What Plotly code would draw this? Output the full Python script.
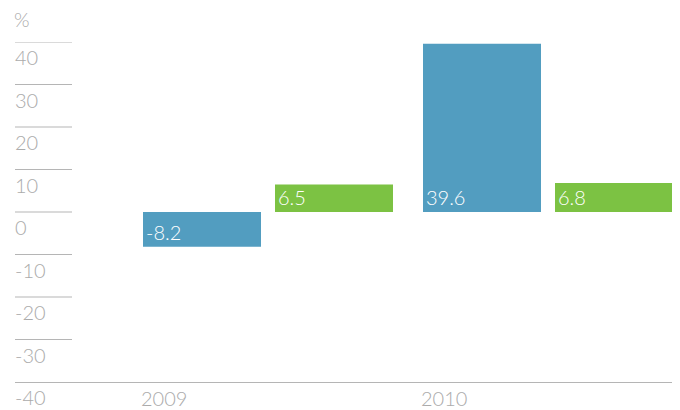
import plotly.graph_objects as go

years = [2009, 2010]
series_a = [-8.2, 39.6]
series_b = [6.5, 6.8]
y_ticks = [40, 30, 20, 10, 0, -10, -20, -30, -40]
year_labels = ["2009", "2010"]

BLUE = "#529DC0"
GREEN = "#7CC243"
GRAY_TXT = "#ABABAB"
GRAY_LINE = "#B5B5B5"
FONT = "Lato"

fig = go.Figure()
fig.add_trace(go.Bar(x=years, y=series_a, marker=dict(color=BLUE, line=dict(width=0)), hoverinfo="skip"))
fig.add_trace(go.Bar(x=years, y=series_b, marker=dict(color=GREEN, line=dict(width=0)), hoverinfo="skip"))

shapes = []
annotations = []
for v in y_ticks:
    if v != y_ticks[-1]:
        shapes.append(dict(type="line", xref="paper", yref="y", x0=0, x1=57/657, y0=v, y1=v,
                           line=dict(color=GRAY_LINE, width=1)))
    annotations.append(dict(xref="paper", yref="y", x=0, y=v, xanchor="left", yanchor="top",
                            text=str(v), showarrow=False, yshift=-1, xshift=-2,
                            font=dict(family=FONT, size=20, color=GRAY_TXT, weight=300)))

annotations.append(dict(xref="paper", yref="paper", x=0, y=1, xanchor="left", yanchor="bottom",
                        text="%", showarrow=False, yshift=9, xshift=-3,
                        font=dict(family=FONT, size=20, color=GRAY_TXT, weight=300)))

for yr, lab in zip(years, year_labels):
    annotations.append(dict(xref="x", yref="paper", x=yr, y=0, xanchor="left", yanchor="top",
                            text=lab, showarrow=False, xshift=-129, yshift=-2,
                            font=dict(family=FONT, size=20, color=GRAY_TXT, weight=300)))

for vals, dx in ((series_a, -124), (series_b, 8)):
    for yr, v in zip(years, vals):
        annotations.append(dict(xref="x", yref="y", x=yr, y=min(v, 0), xanchor="left", yanchor="bottom",
                                text=f"{v:.1f}", showarrow=False, xshift=dx, yshift=1,
                                font=dict(family=FONT, size=20, color="white", weight=300)))

# page body has an 8px margin, so the figure is drawn 8px smaller and offset
fig.update_layout(
    width=672, height=402,
    margin=dict(l=7, r=8, t=34, b=28),
    paper_bgcolor="white", plot_bgcolor="white",
    showlegend=False,
    barmode="group", bargap=16/280, bargroupgap=14/132,
    xaxis=dict(range=[2009 - 253/280, 2009 + 404/280], showgrid=False, zeroline=False,
               showticklabels=False, showline=True, linecolor=GRAY_LINE, linewidth=1, ticks=""),
    yaxis=dict(range=[-40, 40], showgrid=False, zeroline=False, showticklabels=False, ticks=""),
    shapes=shapes,
    annotations=annotations,
)

fig.write_html("out.html")
